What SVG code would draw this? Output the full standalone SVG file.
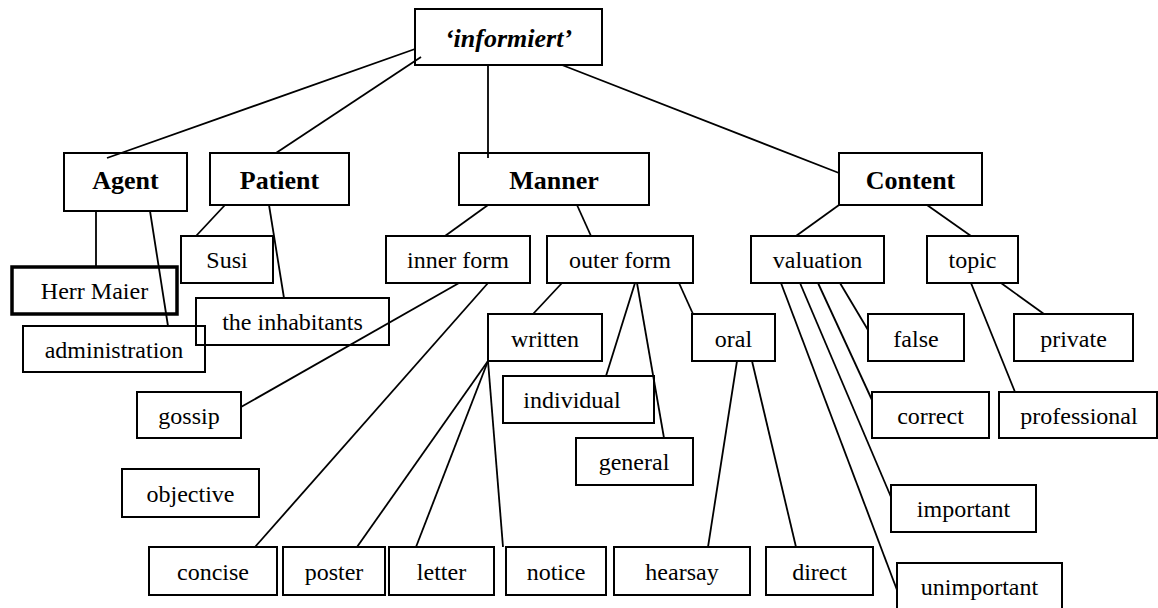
<svg xmlns="http://www.w3.org/2000/svg" width="1158" height="608" viewBox="0 0 1158 608">
<style>
.b{fill:none;stroke:#000;stroke-width:2}
.t{font-family:"Liberation Serif","Times New Roman",serif;font-size:24px;text-anchor:middle;fill:#000}
.h{font-family:"Liberation Serif","Times New Roman",serif;font-size:26px;font-weight:bold;text-anchor:middle;fill:#000}
#connectors line{stroke:#000;stroke-width:1.8}
</style>
<rect width="1158" height="608" fill="#fff"/>
<g id="connectors">
<line x1="415" y1="49" x2="107" y2="158"/>
<line x1="421" y1="57" x2="276" y2="153"/>
<line x1="488" y1="65" x2="488" y2="158"/>
<line x1="562" y1="65" x2="839" y2="173"/>
<line x1="96" y1="211" x2="96" y2="267"/>
<line x1="150" y1="211" x2="168" y2="326"/>
<line x1="225" y1="205" x2="196" y2="236"/>
<line x1="269" y1="205" x2="284" y2="298"/>
<line x1="488" y1="205" x2="445" y2="236"/>
<line x1="577" y1="205" x2="591" y2="236"/>
<line x1="459" y1="283" x2="241" y2="407"/>
<line x1="488" y1="283" x2="255" y2="547"/>
<line x1="562" y1="283" x2="533" y2="314"/>
<line x1="635" y1="283" x2="606" y2="376"/>
<line x1="637" y1="283" x2="664" y2="438"/>
<line x1="679" y1="283" x2="693" y2="314"/>
<line x1="488" y1="361" x2="357" y2="547"/>
<line x1="488" y1="361" x2="416" y2="547"/>
<line x1="488" y1="361" x2="503" y2="547"/>
<line x1="737" y1="361" x2="708" y2="547"/>
<line x1="752" y1="361" x2="796" y2="547"/>
<line x1="839" y1="205" x2="796" y2="236"/>
<line x1="927" y1="205" x2="971" y2="236"/>
<line x1="781" y1="283" x2="897" y2="590"/>
<line x1="800" y1="283" x2="891" y2="497"/>
<line x1="818" y1="283" x2="872" y2="400"/>
<line x1="840" y1="283" x2="868" y2="330"/>
<line x1="971" y1="283" x2="1015" y2="392"/>
<line x1="1001" y1="283" x2="1044" y2="314"/>
</g>
<g id="informiert"><rect class="b" x="415" y="9" width="187" height="56"/><text class="h" x="508.5" y="47" font-style="italic">‘informiert’</text></g>
<g id="agent"><rect class="b" x="64" y="153" width="123" height="58"/><text class="h" x="125.5" y="189">Agent</text></g>
<g id="patient"><rect class="b" x="210" y="153" width="139" height="52"/><text class="h" x="279.5" y="189">Patient</text></g>
<g id="manner"><rect class="b" x="459" y="153" width="190" height="52"/><text class="h" x="554" y="189">Manner</text></g>
<g id="content"><rect class="b" x="839" y="153" width="143" height="52"/><text class="h" x="910.5" y="189">Content</text></g>
<g id="susi"><rect class="b" x="181" y="236" width="92" height="47"/><text class="t" x="227" y="268">Susi</text></g>
<g id="herr-maier"><rect fill="none" stroke="#000" stroke-width="3.5" x="12" y="267" width="165" height="47"/><text class="t" x="94.5" y="299">Herr Maier</text></g>
<g id="inhabitants"><rect class="b" x="196" y="298" width="193" height="47"/><text class="t" x="292.5" y="330">the inhabitants</text></g>
<g id="administration"><rect class="b" x="23" y="326" width="182" height="46"/><text class="t" x="114" y="358">administration</text></g>
<g id="inner-form"><rect class="b" x="386" y="236" width="144" height="47"/><text class="t" x="458" y="268">inner form</text></g>
<g id="outer-form"><rect class="b" x="547" y="236" width="146" height="47"/><text class="t" x="620" y="268">outer form</text></g>
<g id="valuation"><rect class="b" x="751" y="236" width="133" height="47"/><text class="t" x="817.5" y="268">valuation</text></g>
<g id="topic"><rect class="b" x="927" y="236" width="91" height="47"/><text class="t" x="972.5" y="268">topic</text></g>
<g id="written"><rect class="b" x="488" y="314" width="114" height="47"/><text class="t" x="545" y="347">written</text></g>
<g id="oral"><rect class="b" x="692" y="314" width="83" height="47"/><text class="t" x="733.5" y="347">oral</text></g>
<g id="false"><rect class="b" x="868" y="314" width="96" height="47"/><text class="t" x="916" y="347">false</text></g>
<g id="private"><rect class="b" x="1014" y="314" width="119" height="47"/><text class="t" x="1073.5" y="347">private</text></g>
<g id="individual"><rect class="b" x="503" y="376" width="151" height="47"/><text class="t" x="572" y="408">individual</text></g>
<g id="gossip"><rect class="b" x="137" y="392" width="104" height="46"/><text class="t" x="189" y="424">gossip</text></g>
<g id="correct"><rect class="b" x="872" y="392" width="117" height="46"/><text class="t" x="930.5" y="424">correct</text></g>
<g id="professional"><rect class="b" x="999" y="392" width="158" height="46"/><text class="t" x="1079" y="424">professional</text></g>
<g id="general"><rect class="b" x="576" y="438" width="117" height="47"/><text class="t" x="634" y="470">general</text></g>
<g id="objective"><rect class="b" x="122" y="469" width="137" height="48"/><text class="t" x="190.5" y="502">objective</text></g>
<g id="important"><rect class="b" x="891" y="485" width="145" height="47"/><text class="t" x="963.5" y="517">important</text></g>
<g id="concise"><rect class="b" x="149" y="547" width="128" height="48"/><text class="t" x="213" y="580">concise</text></g>
<g id="poster"><rect class="b" x="283" y="547" width="102" height="48"/><text class="t" x="334" y="580">poster</text></g>
<g id="letter"><rect class="b" x="389" y="547" width="105" height="48"/><text class="t" x="441.5" y="580">letter</text></g>
<g id="notice"><rect class="b" x="506" y="547" width="100" height="48"/><text class="t" x="556" y="580">notice</text></g>
<g id="hearsay"><rect class="b" x="614" y="547" width="136" height="48"/><text class="t" x="682" y="580">hearsay</text></g>
<g id="direct"><rect class="b" x="766" y="547" width="107" height="48"/><text class="t" x="819.5" y="580">direct</text></g>
<g id="unimportant"><rect class="b" x="897" y="563" width="165" height="48"/><text class="t" x="979.5" y="595">unimportant</text></g>
</svg>
